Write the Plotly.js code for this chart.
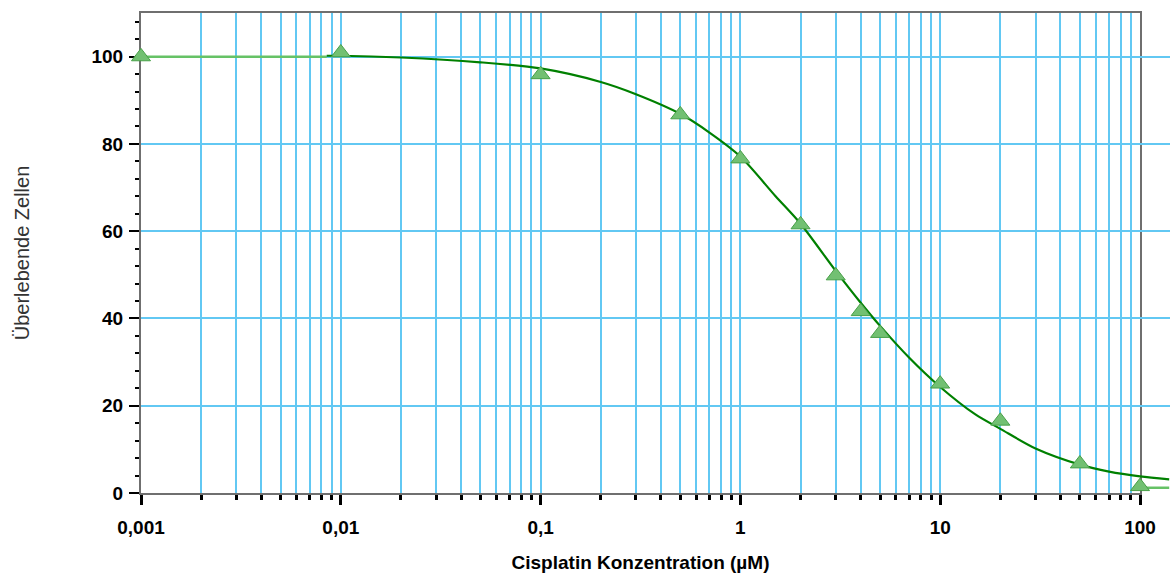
<!DOCTYPE html>
<html>
<head>
<meta charset="utf-8">
<script src="https://cdn.plot.ly/plotly-3.0.1.min.js"></script>
<style>
  html, body { margin: 0; padding: 0; background: #ffffff; }
  #chart { width: 1174px; height: 573px; }
</style>
</head>
<body>
<div id="chart"></div>
<script>
// Measured survival (%) per cisplatin concentration (µM)
const concentrations = [0.001, 0.01, 0.1, 0.5, 1, 2, 3, 4, 5, 10, 20, 50, 100];
const survival = [100.0, 100.9, 95.9, 86.7, 76.6, 61.5, 49.8, 41.6, 36.6, 25.0, 16.5, 6.7, 1.5];

// Dose-response fit curve
const fitConc = [0.0085, 0.01, 0.02, 0.05, 0.1, 0.2, 0.3, 0.5, 0.7, 1, 1.5, 2, 3, 4, 5, 7, 10, 15, 20, 30, 50, 70, 100, 140];
const fitSurvival = [100.2, 100.2, 99.8, 98.7, 97.3, 94.2, 91.4, 86.9, 82.6, 77.1, 68.0, 61.7, 50.9, 43.6, 38.3, 31.0, 24.3, 18.0, 14.7, 10.2, 6.5, 4.9, 3.8, 3.1];

// Plateau lines outside the fitted range
const lowPlateauConc = [0.001, 0.0085];
const lowPlateauSurvival = [100, 100];
const highPlateauConc = [100, 140];
const highPlateauSurvival = [1.2, 1.2];

// Axis ticks
const decadeTicks = [0.001, 0.01, 0.1, 1, 10, 100];
const decadeLabels = ['0,001', '0,01', '0,1', '1', '10', '100'];
const yTicks = [0, 20, 40, 60, 80, 100];

// Minor ticks at 2..9 within each decade
const minorTicks = [];
decadeTicks.slice(0, -1).forEach(d => {
  for (let m = 2; m <= 9; m++) minorTicks.push(d * m);
});

const W = 1174, H = 573;
const margin = { l: 141, r: 4, t: 13, b: 80 };
const plotW = W - margin.l - margin.r;   // full drawing width (curve overruns the frame)
const frameW = 999;                      // framed, gridded part: 0.001 .. 100
const frameFrac = frameW / plotW;
const xEnd = -3 + 5 / frameFrac;         // same px-per-decade on both x axes

const gridColor = '#62c8f3';
const frameColor = '#6f6f6f';
const tickFont = { family: 'Liberation Sans, Arial, sans-serif', size: 19, color: '#000000', weight: 'bold' };

const traces = [
  { x: [], y: [], xaxis: 'x', yaxis: 'y', type: 'scatter', mode: 'markers', showlegend: false, hoverinfo: 'skip' },
  {
    x: lowPlateauConc, y: lowPlateauSurvival, xaxis: 'x2', yaxis: 'y',
    type: 'scatter', mode: 'lines', line: { color: '#66c266', width: 2.5 }, showlegend: false
  },
  {
    x: highPlateauConc, y: highPlateauSurvival, xaxis: 'x2', yaxis: 'y',
    type: 'scatter', mode: 'lines', line: { color: '#66c266', width: 2.5 }, showlegend: false
  },
  {
    x: fitConc, y: fitSurvival, xaxis: 'x2', yaxis: 'y',
    type: 'scatter', mode: 'lines', line: { color: '#008000', width: 2.2, shape: 'spline', smoothing: 0.8 },
    showlegend: false
  },
  {
    x: concentrations, y: survival, xaxis: 'x2', yaxis: 'y',
    type: 'scatter', mode: 'markers', cliponaxis: false,
    marker: { symbol: 'triangle-up', size: 16.5, color: '#72c072', line: { color: '#48a048', width: 1 } },
    showlegend: false
  }
];

const layout = {
  width: W, height: H,
  margin: margin,
  paper_bgcolor: '#ffffff',
  plot_bgcolor: 'rgba(0,0,0,0)',
  showlegend: false,
  xaxis: {
    type: 'log', range: [-3, 2], domain: [0, frameFrac], anchor: 'y',
    tickmode: 'array', tickvals: decadeTicks, ticktext: decadeLabels,
    ticks: 'outside', ticklen: 10, tickwidth: 3, tickcolor: '#000000',
    ticklabelstandoff: 6,
    tickfont: tickFont,
    showgrid: true, gridcolor: gridColor, gridwidth: 2,
    minor: {
      tickmode: 'array', tickvals: minorTicks,
      ticks: 'outside', ticklen: 5, tickwidth: 3, tickcolor: '#000000',
      showgrid: true, gridcolor: gridColor, gridwidth: 2
    },
    showline: true, linecolor: frameColor, linewidth: 2, mirror: true,
    zeroline: false, fixedrange: true,
    title: {
      text: 'Cisplatin Konzentration (µM)', standoff: 20,
      font: { family: 'Liberation Sans, Arial, sans-serif', size: 19, color: '#000000', weight: 'bold' }
    }
  },
  xaxis2: {
    type: 'log', range: [-3, xEnd], domain: [0, 1], anchor: 'y',
    visible: false, showgrid: false, zeroline: false, fixedrange: true
  },
  yaxis: {
    range: [0, 110], domain: [0, 1], anchor: 'x',
    tickmode: 'array', tickvals: yTicks,
    ticks: 'outside', ticklen: 10, tickwidth: 2, tickcolor: '#000000',
    ticklabelstandoff: 2,
    tickfont: tickFont,
    showgrid: true, gridcolor: gridColor, gridwidth: 2,
    minor: {
      tick0: 0, dtick: 4,
      ticks: 'outside', ticklen: 4, tickwidth: 2, tickcolor: '#000000',
      showgrid: false
    },
    showline: true, linecolor: frameColor, linewidth: 2, mirror: true,
    zeroline: false, fixedrange: true,
    title: {
      text: 'Überlebende Zellen', standoff: 56,
      font: { family: 'Liberation Sans, Arial, sans-serif', size: 20, color: '#333333' }
    }
  }
};

Plotly.newPlot('chart', traces, layout, { staticPlot: true, displayModeBar: false });
</script>
</body>
</html>
